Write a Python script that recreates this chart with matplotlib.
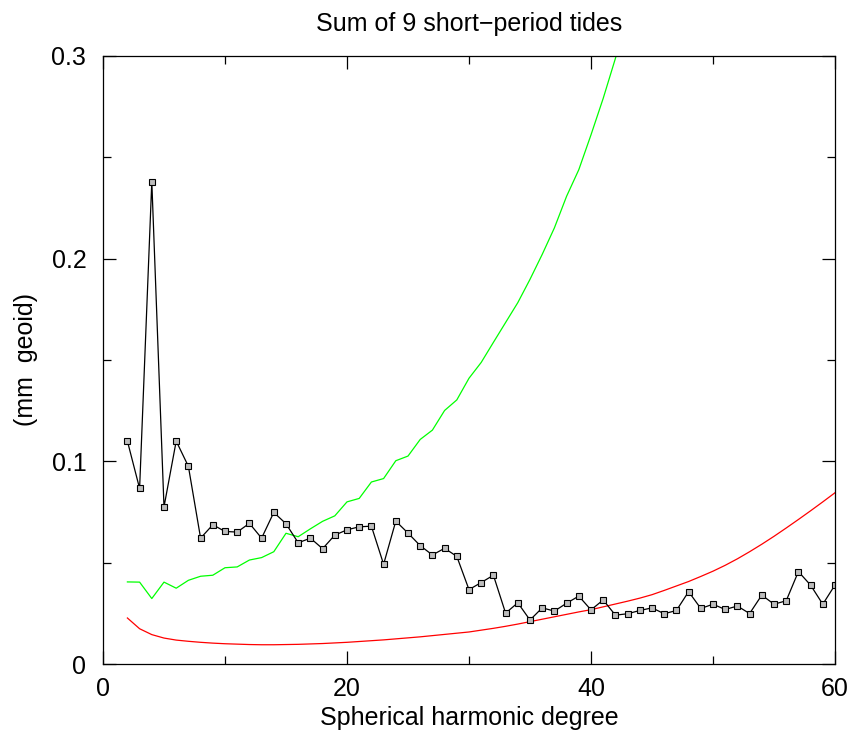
"""Sum of 9 short-period tides: degree spectrum with two reference curves."""
import matplotlib
matplotlib.use("Agg")
import matplotlib.pyplot as plt
from matplotlib.ticker import MultipleLocator, FuncFormatter

plt.rcParams["font.family"] = ["Liberation Sans", "DejaVu Sans"]

# spectrum of the tide sum (black, with markers), degrees 2..60
degrees = list(range(2, 61))
tide_sum = [
    0.110, 0.0866, 0.238, 0.0775, 0.110, 0.0975, 0.0621, 0.0687, 0.0654, 0.0651,
    0.0694, 0.0621, 0.0748, 0.0692, 0.0598, 0.0621, 0.0569, 0.0636, 0.0662, 0.0677,
    0.0680, 0.0492, 0.0705, 0.0646, 0.0584, 0.0538, 0.0571, 0.0531, 0.0367, 0.0402,
    0.0438, 0.0251, 0.0302, 0.0217, 0.0277, 0.0261, 0.0300, 0.0335, 0.0267, 0.0316,
    0.0241, 0.0248, 0.0264, 0.0277, 0.0248, 0.0264, 0.0357, 0.0274, 0.0295, 0.0269,
    0.0286, 0.0249, 0.0340, 0.0295, 0.0312, 0.0456, 0.0389, 0.0295, 0.0390,
]

# green curve (leaves the plot above 0.3 near degree 42)
green_degrees = list(range(2, 44))
green_curve = [
    0.0405, 0.0404, 0.0323, 0.0404, 0.0374, 0.0413, 0.0433, 0.0438, 0.0475, 0.0479,
    0.0513, 0.0525, 0.0554, 0.0645, 0.0628, 0.0667, 0.0704, 0.0731, 0.0800, 0.0817,
    0.0898, 0.0915, 0.1003, 0.1026, 0.1108, 0.1154, 0.1251, 0.1303, 0.1410, 0.1488,
    0.1587, 0.1685, 0.1783, 0.1898, 0.2021, 0.2152, 0.2308, 0.2439, 0.2611, 0.2791,
    0.2988, 0.3200,
]

# red curve, degrees 2..60
red_curve = [
    0.0227, 0.0174, 0.0145, 0.0128, 0.0118, 0.0112, 0.0107, 0.0103, 0.0100, 0.0098,
    0.0096, 0.0095, 0.0095, 0.0096, 0.0097, 0.0099, 0.0101, 0.0104, 0.0107, 0.0111,
    0.0115, 0.0119, 0.0124, 0.0129, 0.0134, 0.0140, 0.0146, 0.0152, 0.0158, 0.0167,
    0.0176, 0.0186, 0.0197, 0.0209, 0.0221, 0.0233, 0.0245, 0.0257, 0.0268, 0.0282,
    0.0296, 0.0310, 0.0325, 0.0342, 0.0363, 0.0385, 0.0407, 0.0432, 0.0458, 0.0487,
    0.0519, 0.0554, 0.0591, 0.0630, 0.0671, 0.0713, 0.0756, 0.0800, 0.0845,
]

fig = plt.figure(figsize=(8.52, 7.38), dpi=100)
ax = fig.add_axes([103 / 852, 1 - 664 / 738, 732 / 852, 608 / 738])

ax.plot(green_degrees, green_curve, color="#00ff00", linewidth=0.9)
ax.plot(degrees, red_curve, color="#ff0000", linewidth=0.9)
ax.plot(degrees, tide_sum, color="black", linewidth=0.9, marker="s",
        markersize=4.0, markerfacecolor="#bdbdbd", markeredgecolor="black",
        markeredgewidth=0.8)

ax.set_xlim(0, 60)
ax.set_ylim(0, 0.3)
ax.xaxis.set_major_locator(MultipleLocator(20))
ax.xaxis.set_minor_locator(MultipleLocator(10))
ax.yaxis.set_major_locator(MultipleLocator(0.1))
ax.yaxis.set_minor_locator(MultipleLocator(0.05))
ax.xaxis.set_major_formatter(FuncFormatter(lambda v, p: f"{v:g}"))
ax.yaxis.set_major_formatter(FuncFormatter(lambda v, p: f"{v:g}"))

ax.tick_params(which="both", direction="in", top=True, right=True,
               labelsize=18, width=0.9)
ax.tick_params(which="major", length=9.5)
ax.tick_params(which="minor", length=6)
ax.tick_params(axis="x", pad=9)
ax.tick_params(axis="y", pad=12)
for spine in ax.spines.values():
    spine.set_linewidth(0.9)

ax.set_title("Sum of 9 short\u2212period tides", fontsize=18, pad=18)
ax.set_xlabel("Spherical harmonic degree", fontsize=18, labelpad=4)
ax.set_ylabel("(mm  geoid)", fontsize=18, labelpad=10)

fig.savefig("out.png", dpi=100)
